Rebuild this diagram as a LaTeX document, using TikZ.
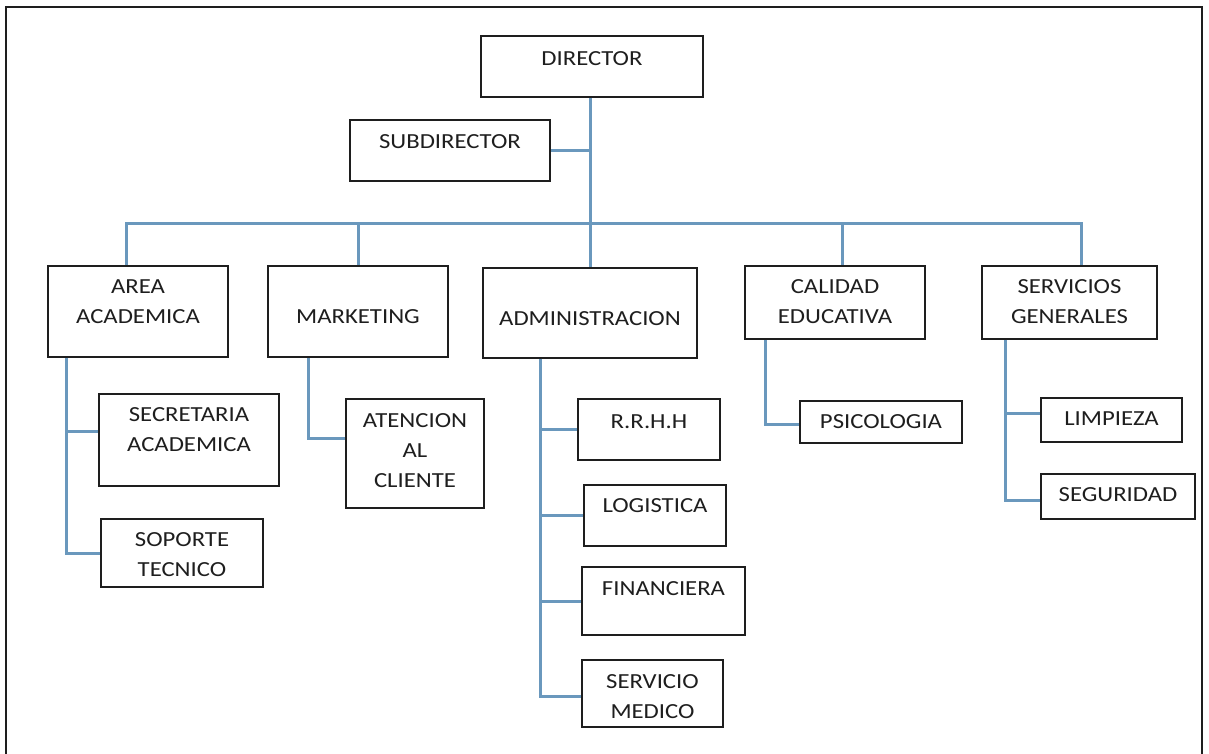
\documentclass[tikz,border=0pt]{standalone}
\usepackage{fontspec}
\setmainfont{Carlito}[FakeStretch=1.15]
\usepackage{tikz}
\usetikzlibrary{positioning}
\definecolor{orglink}{HTML}{6A98BD}
\definecolor{orgline}{HTML}{1E1E1E}

\begin{document}
\begin{tikzpicture}[
    x=1pt, y=-1pt,
    box/.style={
      rectangle, draw=orgline, line width=1.6pt,
      fill=white, inner sep=0pt
    },
    lbl/.style={
      font=\fontsize{21.5}{30}\selectfont, text=orgline,
      align=center, inner sep=0pt
    },
    link/.style={draw=orglink, line width=3pt}
  ]
    \useasboundingbox (0,0) rectangle (1209,754);
    \draw[orgline, line width=1.8pt] (6,7) rectangle (1202,764);

    \node[box, minimum width=222pt, minimum height=61pt] (dir)  at (592,66.5)   {};
    \node[box, minimum width=200pt, minimum height=61pt] (sub)  at (450,150.5)  {};
    \node[box, minimum width=180pt, minimum height=91pt] (aa)   at (138,311.5)  {};
    \node[box, minimum width=180pt, minimum height=91pt] (mk)   at (358,311.5)  {};
    \node[box, minimum width=214pt, minimum height=90pt] (adm)  at (590,313)    {};
    \node[box, minimum width=180pt, minimum height=73pt] (cal)  at (835,302.5)  {};
    \node[box, minimum width=175pt, minimum height=73pt] (sg)   at (1069.5,302.5){};

    \node[box, minimum width=180pt, minimum height=92pt]  (sec)  at (189,440)    {};
    \node[box, minimum width=162pt, minimum height=68pt]  (sop)  at (182,553)    {};
    \node[box, minimum width=138pt, minimum height=109pt] (aten) at (415,453.5)  {};
    \node[box, minimum width=142pt, minimum height=61pt]  (rrhh) at (649,429.5)  {};
    \node[box, minimum width=142pt, minimum height=61pt]  (log)  at (655,515.5)  {};
    \node[box, minimum width=163pt, minimum height=68pt]  (fin)  at (663.5,601)  {};
    \node[box, minimum width=141pt, minimum height=67pt]  (med)  at (652.5,693.5){};
    \node[box, minimum width=162pt, minimum height=42pt]  (psi)  at (881,422)    {};
    \node[box, minimum width=141pt, minimum height=44pt]  (lim)  at (1111.5,420) {};
    \node[box, minimum width=154pt, minimum height=45pt]  (seg)  at (1118,496.5) {};

    \node[lbl, below=16pt of dir.north]  (dirt)  {DIRECTOR};
    \node[lbl, below=15pt of sub.north]  (subt)  {SUBDIRECTOR};
    \node[lbl, below=14pt of aa.north]   (aat)   {AREA\\ACADEMICA};
    \node[lbl, below=44pt of mk.north]   (mkt)   {MARKETING};
    \node[lbl, below=44pt of adm.north]  (admt)  {ADMINISTRACION};
    \node[lbl, below=14pt of cal.north]  (calt)  {CALIDAD\\EDUCATIVA};
    \node[lbl, below=14pt of sg.north]   (sgt)   {SERVICIOS\\GENERALES};
    \node[lbl, below=14pt of sec.north]  (sect)  {SECRETARIA\\ACADEMICA};
    \node[lbl, below=14pt of sop.north]  (sopt)  {SOPORTE\\TECNICO};
    \node[lbl, below=15pt of aten.north] (atent) {ATENCION\\AL\\CLIENTE};
    \node[lbl, below=16pt of rrhh.north] (rrhht) {R.R.H.H};
    \node[lbl, below=14pt of log.north]  (logt)  {LOGISTICA};
    \node[lbl, below=15pt of fin.north]  (fint)  {FINANCIERA};
    \node[lbl, below=15pt of med.north]  (medt)  {SERVICIO\\MEDICO};
    \node[lbl, below=14pt of psi.north]  (psit)  {PSICOLOGIA};
    \node[lbl, below=14pt of lim.north]  (limt)  {LIMPIEZA};
    \node[lbl, below=14pt of seg.north]  (segt)  {SEGURIDAD};

    \coordinate (bus) at (590,223);
    \draw[link] (adm.north |- dir.south) -- (adm.north);
    \draw[link] (sub.east) -- (sub.east -| adm.north);
    \draw[link] ([xshift=-12pt]aa.north) |- (bus) -| ([xshift=11.5pt]sg.north);
    \draw[link] (mk.north) |- (bus);
    \draw[link] ([xshift=7pt]cal.north) |- (bus);

    \draw[link] ([xshift=-72pt]aa.south) |- ([yshift=9pt]sec.west);
    \draw[link] ([xshift=-72pt]aa.south) |- (sop.west);
    \draw[link] ([xshift=-50pt]mk.south) |- ([yshift=15.5pt]aten.west);
    \draw[link] ([xshift=-50pt]adm.south) |- (rrhh.west);
    \draw[link] ([xshift=-50pt]adm.south) |- (log.west);
    \draw[link] ([xshift=-50pt]adm.south) |- (fin.west);
    \draw[link] ([xshift=-50pt]adm.south) |- ([yshift=-2.5pt]med.west);
    \draw[link] ([xshift=-70pt]cal.south) |- ([yshift=-2pt]psi.west);
    \draw[link] ([xshift=-64.5pt]sg.south) |- ([yshift=7pt]lim.west);
    \draw[link] ([xshift=-64.5pt]sg.south) |- ([yshift=-3.5pt]seg.west);
  \end{tikzpicture}
\end{document}
